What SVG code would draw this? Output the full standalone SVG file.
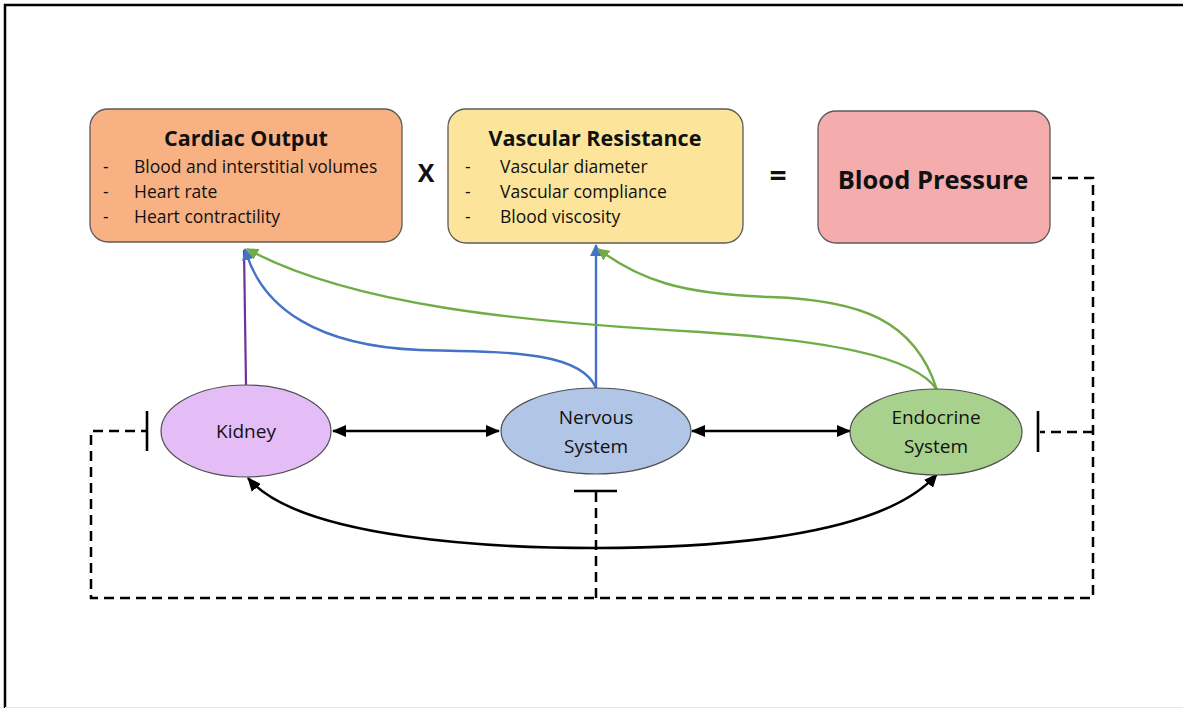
<svg xmlns="http://www.w3.org/2000/svg" width="1183" height="708" viewBox="0 0 1183 708">
<defs>
<style>
.box{stroke:#5b5b5b;stroke-width:1.3}
.ell{stroke:#4f4f4f;stroke-width:1.2}
.t{font-family:"Open Sans","Liberation Sans",sans-serif;fill:#111}
.title{font-size:21.5px;font-weight:bold;text-anchor:middle}
.item{font-size:17.5px}
.lbl{font-size:19px;text-anchor:middle}
.blk{fill:none;stroke:#000;stroke-width:2.6}
.dash{fill:none;stroke:#000;stroke-width:2.5;stroke-dasharray:10 6}
.bar{stroke:#000;stroke-width:2.6}
</style>
<marker id="ak" viewBox="0 0 14 12" refX="13" refY="6" markerWidth="14" markerHeight="12" markerUnits="userSpaceOnUse" orient="auto-start-reverse"><path d="M0,0 L14,6 L0,12 Z" fill="#000"/></marker>
<marker id="ab" viewBox="0 0 12 12" refX="11" refY="6" markerWidth="12" markerHeight="12" markerUnits="userSpaceOnUse" orient="auto"><path d="M0,0 L12,6 L0,12 Z" fill="#4472C4"/></marker>
<marker id="ag" viewBox="0 0 12 12" refX="11" refY="6" markerWidth="12" markerHeight="12" markerUnits="userSpaceOnUse" orient="auto"><path d="M0,0 L12,6 L0,12 Z" fill="#70AD47"/></marker>
</defs>
<rect width="1183" height="708" fill="#fff"/>
<path d="M5,708 L5,5 L1183,5" fill="none" stroke="#000" stroke-width="2.5"/>
<line x1="5" y1="707.5" x2="1183" y2="707.5" stroke="#e6e6e6" stroke-width="1"/>

<g id="connectors">
<line x1="246" y1="385" x2="244" y2="250" stroke="#7030A0" stroke-width="2.2"/>
<path d="M596,388 C580,350 500,352 420,350 C320,346 262,310 245,249" fill="none" stroke="#4472C4" stroke-width="2.4" marker-end="url(#ab)"/>
<line x1="596" y1="388" x2="596" y2="245" stroke="#4472C4" stroke-width="2.4" marker-end="url(#ab)"/>
<path d="M937,390 C915,355 820,340 700,332 C520,322 350,305 247,249" fill="none" stroke="#70AD47" stroke-width="2.4" marker-end="url(#ag)"/>
<path d="M937,390 C915,320 860,300 770,297 C680,294 640,280 598,249" fill="none" stroke="#70AD47" stroke-width="2.4" marker-end="url(#ag)"/>
<line x1="333" y1="431" x2="499" y2="431" class="blk" marker-start="url(#ak)" marker-end="url(#ak)"/>
<line x1="692" y1="431" x2="850" y2="431" class="blk" marker-start="url(#ak)" marker-end="url(#ak)"/>
<path d="M248,478 C300,540 500,548 596,548 C700,548 880,540 937,474" class="blk" marker-start="url(#ak)" marker-end="url(#ak)"/>
<path d="M1052,178 L1093,178 L1093,598 L91,598 L91,431 L147,431" class="dash"/>
<line x1="1093" y1="432" x2="1040" y2="432" class="dash"/>
<line x1="596" y1="598" x2="596" y2="491" class="dash"/>
<line x1="147" y1="411" x2="147" y2="451" class="bar"/>
<line x1="1038" y1="411" x2="1038" y2="452" class="bar"/>
<line x1="574" y1="491" x2="617" y2="491" class="bar"/>
</g>

<g id="cardiac-output">
<rect x="90" y="109" width="312" height="133" rx="18" fill="#F8B183" class="box"/>
<text x="246" y="146" class="t title">Cardiac Output</text>
<text x="103" y="173" class="t item">-</text><text x="134" y="173" class="t item">Blood and interstitial volumes</text>
<text x="103" y="198" class="t item">-</text><text x="134" y="198" class="t item">Heart rate</text>
<text x="103" y="223" class="t item">-</text><text x="134" y="223" class="t item">Heart contractility</text>
</g>
<text x="426" y="182" class="t" font-size="25" font-weight="bold" text-anchor="middle">X</text>
<g id="vascular-resistance">
<rect x="448" y="109" width="295" height="134" rx="18" fill="#FCE59A" class="box"/>
<text x="595" y="146" class="t title">Vascular Resistance</text>
<text x="465" y="173" class="t item">-</text><text x="500" y="173" class="t item">Vascular diameter</text>
<text x="465" y="198" class="t item">-</text><text x="500" y="198" class="t item">Vascular compliance</text>
<text x="465" y="223" class="t item">-</text><text x="500" y="223" class="t item">Blood viscosity</text>
</g>
<text x="778" y="186" class="t" font-size="30" font-weight="bold" text-anchor="middle">=</text>
<g id="blood-pressure">
<rect x="818" y="111" width="232" height="132" rx="18" fill="#F5ACAC" class="box"/>
<text x="933" y="189" class="t" font-size="25.5" font-weight="bold" text-anchor="middle">Blood Pressure</text>
</g>
<g id="kidney">
<ellipse cx="246" cy="431" rx="85" ry="46" fill="#E4BDF7" class="ell"/>
<text x="246" y="438" class="t lbl">Kidney</text>
</g>
<g id="nervous-system">
<ellipse cx="596" cy="431" rx="95" ry="43" fill="#B1C5E6" class="ell"/>
<text x="596" y="424" class="t lbl">Nervous</text>
<text x="596" y="453" class="t lbl">System</text>
</g>
<g id="endocrine-system">
<ellipse cx="936" cy="432" rx="86" ry="43" fill="#A9D18E" class="ell"/>
<text x="936" y="424" class="t lbl">Endocrine</text>
<text x="936" y="453" class="t lbl">System</text>
</g>
</svg>
